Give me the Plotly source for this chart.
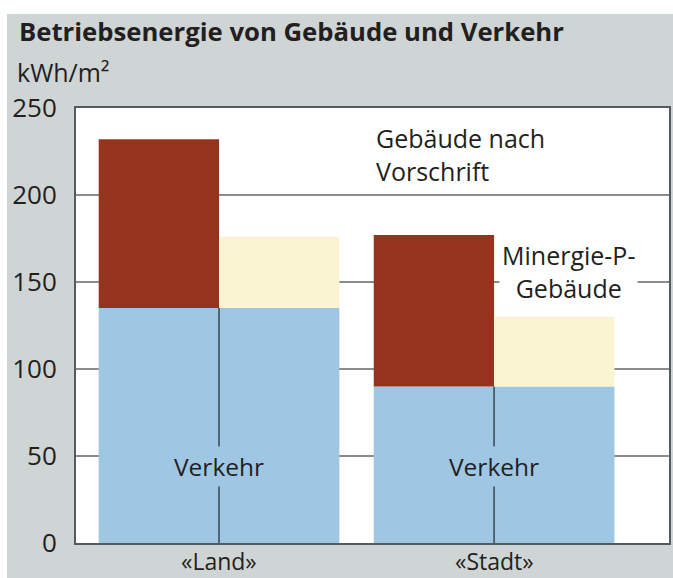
import plotly.graph_objects as go

# Betriebsenergie (kWh/m²) – Land vs. Stadt
categories = ["«Land»", "«Stadt»"]
verkehr = [135, 90]
gebaeude_vorschrift = [97, 87]   # stacked on top of Verkehr
gebaeude_minergie = [41, 40]     # stacked on top of Verkehr
y_ticks = [0, 50, 100, 150, 200, 250]

FONT = "Open Sans"
TEXT = "#231f20"
BLUE = "#9fc6e3"
RED = "#96331f"
YELLOW = "#faf4d2"
GREY_BG = "#cfd4d4"

W, H = 673, 578
ML, MR, MT, MB = 76, 4, 108, 35
PW, PH = W - ML - MR, H - MT - MB

fig = go.Figure()

# Verkehr base for both sub-bars
for grp in ("vorschrift", "minergie"):
    fig.add_trace(go.Bar(
        x=categories, y=verkehr, offsetgroup=grp,
        marker=dict(color=BLUE, line=dict(width=0)),
        showlegend=False, hoverinfo="skip",
    ))

fig.add_trace(go.Bar(
    x=categories, y=gebaeude_vorschrift, base=verkehr, offsetgroup="vorschrift",
    marker=dict(color=RED, line=dict(width=0)), showlegend=False,
))
fig.add_trace(go.Bar(
    x=categories, y=gebaeude_minergie, base=verkehr, offsetgroup="minergie",
    marker=dict(color=YELLOW, line=dict(width=0)), showlegend=False,
))

shapes = []
# white page strips around the grey panel
shapes.append(dict(type="rect", xref="paper", yref="paper",
                   x0=-ML / PW - 0.05, x1=1 + MR / PW + 0.05,
                   y0=1 + (MT - 14) / PH, y1=1 + MT / PH + 0.05,
                   fillcolor="white", line=dict(width=0), layer="below"))
shapes.append(dict(type="rect", xref="paper", yref="paper",
                   x0=-ML / PW - 0.05, x1=-(ML - 7) / PW,
                   y0=-MB / PH - 0.05, y1=1 + MT / PH + 0.05,
                   fillcolor="white", line=dict(width=0), layer="below"))
# divider line through the Verkehr block at each category centre
for i, v in enumerate(verkehr):
    shapes.append(dict(type="line", xref="x", yref="y", x0=i, x1=i, y0=0, y1=v,
                       line=dict(color="#3d4650", width=1.5), layer="above"))

annotations = [
    dict(text="<b>Betriebsenergie von Gebäude und Verkehr</b>", xref="paper", yref="paper",
         x=(17 - ML) / PW, y=1 + (MT - 32) / PH,
         xanchor="left", yanchor="middle", showarrow=False,
         font=dict(family=FONT, size=25.7, color=TEXT)),
    dict(text="kWh/m²", xref="paper", yref="paper",
         x=(15 - ML) / PW, y=1 + (MT - 72) / PH,
         xanchor="left", yanchor="middle", showarrow=False,
         font=dict(family=FONT, size=25, color=TEXT)),
    dict(text="Gebäude nach<br>Vorschrift", xref="x", yref="y", x=0.565, y=223,
         xanchor="left", yanchor="middle", align="left", showarrow=False,
         font=dict(family=FONT, size=25, color=TEXT)),
    dict(text="Minergie-P-<br>Gebäude", xref="x", yref="y", x=1.272, y=156,
         xanchor="center", yanchor="middle", align="center", showarrow=False,
         bgcolor="white", borderpad=2,
         font=dict(family=FONT, size=25, color=TEXT)),
]
for i, cat in enumerate(categories):
    annotations.append(dict(text="Verkehr", xref="x", yref="y", x=i, y=44,
                            xanchor="center", yanchor="middle", showarrow=False,
                            bgcolor=BLUE, borderpad=3,
                            font=dict(family=FONT, size=24.5, color=TEXT)))
    # category label under the axis
    annotations.append(dict(text=cat, xref="x", yref="paper", x=i, y=-(561 - (MT + PH)) / PH,
                            xanchor="center", yanchor="middle", showarrow=False,
                            font=dict(family=FONT, size=23, color=TEXT)))

fig.update_layout(
    width=W, height=H, autosize=False,
    margin=dict(l=ML, r=MR, t=MT, b=MB, pad=0, autoexpand=False),
    paper_bgcolor=GREY_BG, plot_bgcolor="white",
    barmode="group", bargap=0.125, bargroupgap=0,
    font=dict(family=FONT, size=24, color=TEXT),
    shapes=shapes, annotations=annotations,
    xaxis=dict(type="category", range=[-0.52, 1.636], showgrid=False,
               showline=True, mirror=True, linecolor="#555a5e", linewidth=2,
               ticks="", showticklabels=False, fixedrange=True, automargin=False),
    yaxis=dict(range=[0, 250], tickvals=y_ticks, showgrid=True,
               gridcolor="#8a8d8f", gridwidth=1.5, zeroline=False,
               showline=True, mirror=True, linecolor="#555a5e", linewidth=2,
               ticks="", tickfont=dict(family=FONT, size=26, color=TEXT),
               ticklabelstandoff=12, fixedrange=True, automargin=False),
)

fig.write_html("out.html")
